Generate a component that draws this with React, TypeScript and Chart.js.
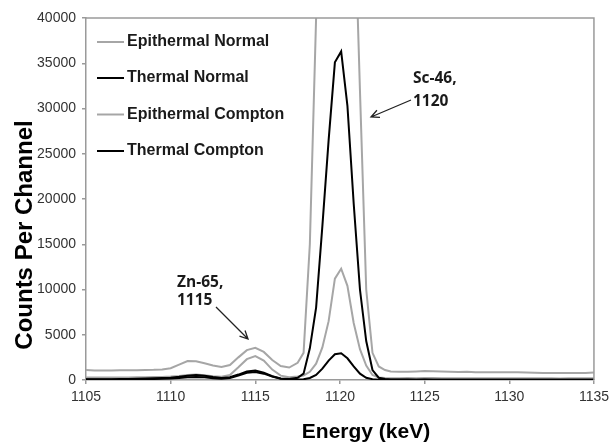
import { useEffect, useRef } from 'react';
import { Chart, registerables } from 'chart.js';

Chart.register(...registerables);

const energies = [
  1105, 1105.5, 1106, 1106.5, 1107, 1107.5, 1108, 1108.5, 1109, 1109.5, 1110, 1110.5, 1111,
  1111.5, 1112, 1112.5, 1113, 1113.5, 1114, 1114.5, 1115, 1115.5, 1116, 1116.5, 1117, 1117.5,
  1117.85, 1118.22, 1118.59, 1118.96, 1119.33, 1119.7, 1120.07, 1120.44, 1120.81, 1121.18,
  1121.55, 1121.92, 1122.29, 1122.66,
  1123, 1123.5, 1124, 1124.5, 1125, 1125.5, 1126, 1126.5, 1127, 1127.5, 1128, 1128.5, 1129,
  1129.5, 1130, 1130.5, 1131, 1131.5, 1132, 1132.5, 1133, 1133.5, 1134, 1134.5, 1135,
];

const epithermalNormal = [
  1100, 1050, 1050, 1060, 1070, 1080, 1090, 1100, 1120, 1170, 1300, 1700, 2100,
  2080, 1850, 1600, 1450, 1650, 2500, 3300, 3550, 3100, 2200, 1550, 1380, 1900,
  3000, 15000, 40000, 70000, 95000, 110000, 112000, 90000, 55000, 32000,
  10000, 3000, 1500, 1100,
  950, 920, 920, 950, 1000, 980, 930, 900, 880, 900, 870, 860, 870,
  850, 850, 860, 840, 800, 780, 780, 770, 770, 780, 780, 830,
];

const thermalNormal = [
  80, 80, 90, 90, 100, 110, 130, 160, 180, 220, 260, 350, 480,
  560, 480, 330, 220, 300, 600, 950, 1050, 820, 420, 170, 100, 250,
  700, 3500, 8000, 17000, 26500, 35100, 36300, 30300, 19500, 10000,
  4300, 1100, 250, 100,
  60, 50, 50, 40, 50, 40, 40, 30, 40, 40, 30, 40, 30,
  40, 30, 30, 40, 30, 30, 30, 30, 30, 30, 30, 30,
];

const epithermalCompton = [
  280, 270, 270, 280, 280, 290, 300, 310, 320, 340, 380, 450, 560,
  600, 530, 420, 360, 550, 1400, 2300, 2650, 2150, 1150, 480, 300, 380,
  500, 900, 1800, 3600, 6500, 11200, 12300, 10400, 6300, 3400,
  1600, 550, 280, 220,
  200, 200, 210, 200, 220, 210, 200, 190, 200, 200, 190, 180, 190,
  200, 190, 180, 190, 200, 180, 180, 170, 180, 180, 180, 190,
];

const thermalCompton = [
  50, 50, 50, 60, 60, 70, 80, 100, 110, 130, 160, 220, 300,
  340, 300, 200, 150, 220, 500, 800, 880, 700, 380, 150, 80, 60,
  80, 220, 550, 1250, 2150, 2850, 2950, 2400, 1500, 700,
  250, 90, 40, 30,
  30, 30, 25, 30, 25, 30, 25, 20, 25, 30, 20, 25, 20,
  25, 20, 25, 20, 20, 25, 20, 20, 20, 20, 20, 20,
];

const seriesNames = ['Epithermal Normal', 'Thermal Normal', 'Epithermal Compton', 'Thermal Compton'];
const yTicks = [0, 5000, 10000, 15000, 20000, 25000, 30000, 35000, 40000];
const xTicks = [1105, 1110, 1115, 1120, 1125, 1130, 1135];

const GRAY = '#a6a6a6';
const BLACK = '#000000';
const AXIS = '#9a9a9a';
const ARIAL = '"Liberation Sans", Arial, sans-serif';
const CALIBRI = '"Open Sans", "Noto Sans", sans-serif';

const toPoints = (ys: number[]) => energies.map((x, i) => ({ x, y: ys[i] }));

function drawArrow(ctx: CanvasRenderingContext2D, x1: number, y1: number, x2: number, y2: number) {
  const ang = Math.atan2(y2 - y1, x2 - x1);
  const len = 9;
  const spread = 0.45;
  ctx.beginPath();
  ctx.moveTo(x1, y1);
  ctx.lineTo(x2, y2);
  ctx.moveTo(x2 - len * Math.cos(ang - spread), y2 - len * Math.sin(ang - spread));
  ctx.lineTo(x2, y2);
  ctx.lineTo(x2 - len * Math.cos(ang + spread), y2 - len * Math.sin(ang + spread));
  ctx.stroke();
}

const decor = {
  id: 'decor',
  afterDraw(chart: any) {
    const { ctx, chartArea } = chart;
    const { left, top, right, bottom } = chartArea;
    ctx.save();
    // frame
    ctx.strokeStyle = AXIS;
    ctx.lineWidth = 1.5;
    ctx.beginPath();
    ctx.moveTo(left, top);
    ctx.lineTo(right, top);
    ctx.lineTo(right, bottom);
    ctx.stroke();

    // legend
    const colors = [GRAY, BLACK, GRAY, BLACK];
    const rows = [42, 78, 114.5, 151];
    ctx.font = `bold 16px ${ARIAL}`;
    ctx.textBaseline = 'middle';
    ctx.textAlign = 'left';
    seriesNames.forEach((name, i) => {
      ctx.strokeStyle = colors[i];
      ctx.lineWidth = 2;
      ctx.beginPath();
      ctx.moveTo(97, rows[i]);
      ctx.lineTo(124, rows[i]);
      ctx.stroke();
      ctx.fillStyle = '#1a1a1a';
      ctx.fillText(name, 127, rows[i]);
    });

    // annotations
    ctx.font = `bold 15.5px ${CALIBRI}`;
    ctx.textBaseline = 'alphabetic';
    ctx.fillStyle = '#1a1a1a';
    ctx.fillText('Sc-46,', 413, 83);
    ctx.fillText('1120', 413, 106);
    ctx.fillText('Zn-65,', 177, 287);
    ctx.fillText('1115', 177, 305);
    ctx.strokeStyle = '#222';
    ctx.lineWidth = 1.3;
    drawArrow(ctx, 411, 100, 371, 117);
    drawArrow(ctx, 216, 307, 248, 339);

    // axis titles
    ctx.fillStyle = '#000';
    ctx.font = `bold 21px ${ARIAL}`;
    ctx.textAlign = 'center';
    ctx.fillText('Energy (keV)', 366, 438);
    ctx.save();
    ctx.translate(32, 235);
    ctx.rotate(-Math.PI / 2);
    ctx.font = `bold 24px ${ARIAL}`;
    ctx.fillText('Counts Per Channel', 0, 0);
    ctx.restore();
    ctx.restore();
  },
};

export default function App() {
  const ref = useRef<HTMLCanvasElement | null>(null);

  useEffect(() => {
    if (!ref.current) return;
    const chart = new Chart(ref.current, {
      type: 'line',
      data: {
        datasets: [
          { label: seriesNames[1], data: toPoints(thermalNormal), borderColor: BLACK, borderWidth: 2 },
          { label: seriesNames[3], data: toPoints(thermalCompton), borderColor: BLACK, borderWidth: 2 },
          { label: seriesNames[2], data: toPoints(epithermalCompton), borderColor: GRAY, borderWidth: 2 },
          { label: seriesNames[0], data: toPoints(epithermalNormal), borderColor: GRAY, borderWidth: 2 },
        ],
      },
      options: {
        responsive: false,
        animation: false,
        layout: { padding: { left: 0, top: 18, right: 16, bottom: 0 } },
        elements: { point: { radius: 0 }, line: { tension: 0, fill: false } },
        plugins: { legend: { display: false }, tooltip: { enabled: false } },
        scales: {
          x: {
            type: 'linear',
            min: xTicks[0],
            max: xTicks[xTicks.length - 1],
            afterBuildTicks: (s: any) => { s.ticks = xTicks.map((v) => ({ value: v })); },
            afterFit: (s: any) => { s.height = 63; },
            ticks: {
              color: '#333',
              font: { family: ARIAL, size: 14 },
              padding: 5,
              maxRotation: 0,
              autoSkip: false,
              callback: (v: any) => String(v),
            },
            grid: { drawOnChartArea: false, drawTicks: true, tickLength: 4, color: AXIS, lineWidth: 1.5 },
            border: { color: AXIS, width: 1.5 },
          },
          y: {
            min: yTicks[0],
            max: yTicks[yTicks.length - 1],
            afterBuildTicks: (s: any) => { s.ticks = yTicks.map((v) => ({ value: v })); },
            afterFit: (s: any) => { s.width = 86; },
            ticks: {
              color: '#333',
              font: { family: ARIAL, size: 14 },
              padding: 6,
              autoSkip: false,
              callback: (v: any) => String(v),
            },
            grid: { drawOnChartArea: false, drawTicks: true, tickLength: 4, color: AXIS, lineWidth: 1.5 },
            border: { color: AXIS, width: 1.5 },
          },
        },
      },
      plugins: [decor],
    } as any);
    return () => chart.destroy();
  }, []);

  return (
    <div style={{ position: 'absolute', left: 0, top: 0, width: 614, height: 443, background: '#fff' }}>
      <canvas ref={ref} width={614} height={443} style={{ display: 'block' }} />
    </div>
  );
}
